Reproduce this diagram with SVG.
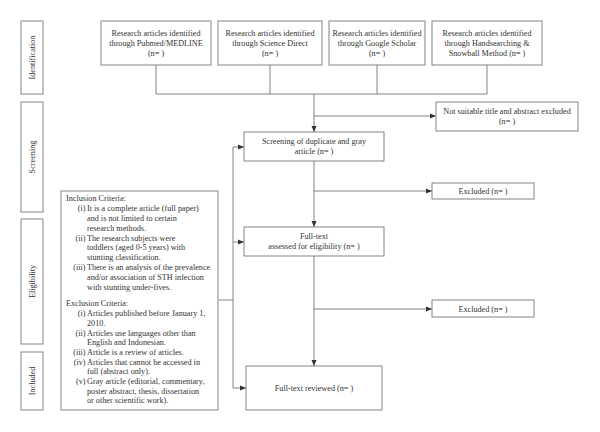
<svg xmlns="http://www.w3.org/2000/svg" width="600" height="432" viewBox="0 0 600 432">
<defs>
<marker id="arr" markerUnits="userSpaceOnUse" markerWidth="6" markerHeight="6" refX="6" refY="3" orient="auto">
<path d="M0,0.5 L6,3 L0,5.5 z" fill="#333"/>
</marker>
<style>
.box{fill:#fff;stroke:#777;stroke-width:0.9}
.t{font-family:"Liberation Serif","Times New Roman",serif;font-size:8.2px;fill:#333}
.c{text-anchor:middle}
.e{text-anchor:end}
.ln{fill:none;stroke:#777;stroke-width:0.9}
.a{marker-end:url(#arr)}
</style>
</defs>
<rect width="600" height="432" fill="#fff"/>

<g id="phase-identification"><rect class="box" x="21" y="21" width="22" height="73"/><text class="t c" transform="translate(35,57.5) rotate(-90)">Identification</text></g>
<g id="phase-screening"><rect class="box" x="21" y="102" width="22" height="110"/><text class="t c" transform="translate(35,157) rotate(-90)">Screening</text></g>
<g id="phase-eligibility"><rect class="box" x="21" y="219" width="22" height="125"/><text class="t c" transform="translate(35,281.5) rotate(-90)">Eligibility</text></g>
<g id="phase-included"><rect class="box" x="21" y="352" width="22" height="58"/><text class="t c" transform="translate(35,381) rotate(-90)">Included</text></g>

<g id="connectors">
<path class="ln" d="M156,65 V94 M270,65 V94 M377,65 V94 M487,65 V94 M156,94 H487"/>
<path class="ln a" d="M314,94 V132"/>
<path class="ln a" d="M314,116 H436"/>
<path class="ln a" d="M314,161 V227"/>
<path class="ln a" d="M314,191 H432"/>
<path class="ln a" d="M314,256 V366"/>
<path class="ln a" d="M314,309 H432"/>
<path class="ln" d="M219,300 H233 M233,147 V388"/>
<path class="ln a" d="M233,147 H244"/>
<path class="ln a" d="M233,242 H244"/>
<path class="ln a" d="M233,388 H246"/>
</g>

<g id="src-pubmed"><rect class="box" x="101" y="21" width="110" height="44"/>
<text class="t c" x="156" y="36">Research articles identified</text><text class="t c" x="156" y="46">through Pubmed/MEDLINE</text><text class="t c" x="156" y="56">(n= )</text></g>
<g id="src-sciencedirect"><rect class="box" x="218" y="21" width="104" height="44"/>
<text class="t c" x="270" y="36">Research articles identified</text><text class="t c" x="270" y="46">through Science Direct</text><text class="t c" x="270" y="56">(n= )</text></g>
<g id="src-scholar"><rect class="box" x="329" y="21" width="96" height="44"/>
<text class="t c" x="377" y="36">Research articles identified</text><text class="t c" x="377" y="46">through Google Scholar</text><text class="t c" x="377" y="56">(n= )</text></g>
<g id="src-hand"><rect class="box" x="432" y="21" width="110" height="44"/>
<text class="t c" x="487" y="36">Research articles identified</text><text class="t c" x="487" y="46">through Handsearching &amp;</text><text class="t c" x="487" y="56">Snowball Method (n= )</text></g>

<g id="not-suitable"><rect class="box" x="436" y="102" width="142" height="29"/>
<text class="t c" x="507" y="114">Not suitable title and abstract excluded</text><text class="t c" x="507" y="124">(n= )</text></g>
<g id="screening"><rect class="box" x="244" y="132" width="140" height="29"/>
<text class="t c" x="314" y="144">Screening of duplicate and gray</text><text class="t c" x="314" y="154">article (n= )</text></g>
<g id="excluded-1"><rect class="box" x="432" y="183" width="102" height="16"/>
<text class="t c" x="483" y="194">Excluded (n= )</text></g>
<g id="fulltext"><rect class="box" x="244" y="227" width="140" height="29"/>
<text class="t c" x="314" y="239">Full-text</text><text class="t c" x="314" y="249">assessed for eligibility (n= )</text></g>
<g id="excluded-2"><rect class="box" x="432" y="300" width="102" height="17"/>
<text class="t c" x="483" y="311.5">Excluded (n= )</text></g>
<g id="reviewed"><rect class="box" x="246" y="366" width="136" height="44"/>
<text class="t c" x="314" y="391">Full-text reviewed (n= )</text></g>

<g id="criteria"><rect class="box" x="61" y="191" width="157" height="219"/>
<text class="t" x="66" y="201">Inclusion Criteria:</text>
<text class="t e" x="85.5" y="211">(i)</text><text class="t" x="87" y="211">It is a complete article (full paper)</text>
<text class="t" x="87" y="221">and is not limited to certain</text>
<text class="t" x="87" y="231">research methods.</text>
<text class="t e" x="85.5" y="240.5">(ii)</text><text class="t" x="87" y="240.5">The research subjects were</text>
<text class="t" x="87" y="250">toddlers (aged 0-5 years) with</text>
<text class="t" x="87" y="260">stunting classification.</text>
<text class="t e" x="85.5" y="270">(iii)</text><text class="t" x="87" y="270">There is an analysis of the prevalence</text>
<text class="t" x="87" y="280">and/or association of STH infection</text>
<text class="t" x="87" y="289.5">with stunting under-fives.</text>
<text class="t" x="66" y="306">Exclusion Criteria:</text>
<text class="t e" x="85.5" y="316">(i)</text><text class="t" x="87" y="316">Articles published before January 1,</text>
<text class="t" x="87" y="326">2010.</text>
<text class="t e" x="85.5" y="336">(ii)</text><text class="t" x="87" y="336">Articles use languages other than</text>
<text class="t" x="87" y="345">English and Indonesian.</text>
<text class="t e" x="85.5" y="355">(iii)</text><text class="t" x="87" y="355">Article is a review of articles.</text>
<text class="t e" x="85.5" y="365">(iv)</text><text class="t" x="87" y="365">Articles that cannot be accessed in</text>
<text class="t" x="87" y="374">full (abstract only).</text>
<text class="t e" x="85.5" y="384">(v)</text><text class="t" x="87" y="384">Gray article (editorial, commentary,</text>
<text class="t" x="87" y="394">poster abstract, thesis, dissertation</text>
<text class="t" x="87" y="403">or other scientific work).</text>
</g>
</svg>
